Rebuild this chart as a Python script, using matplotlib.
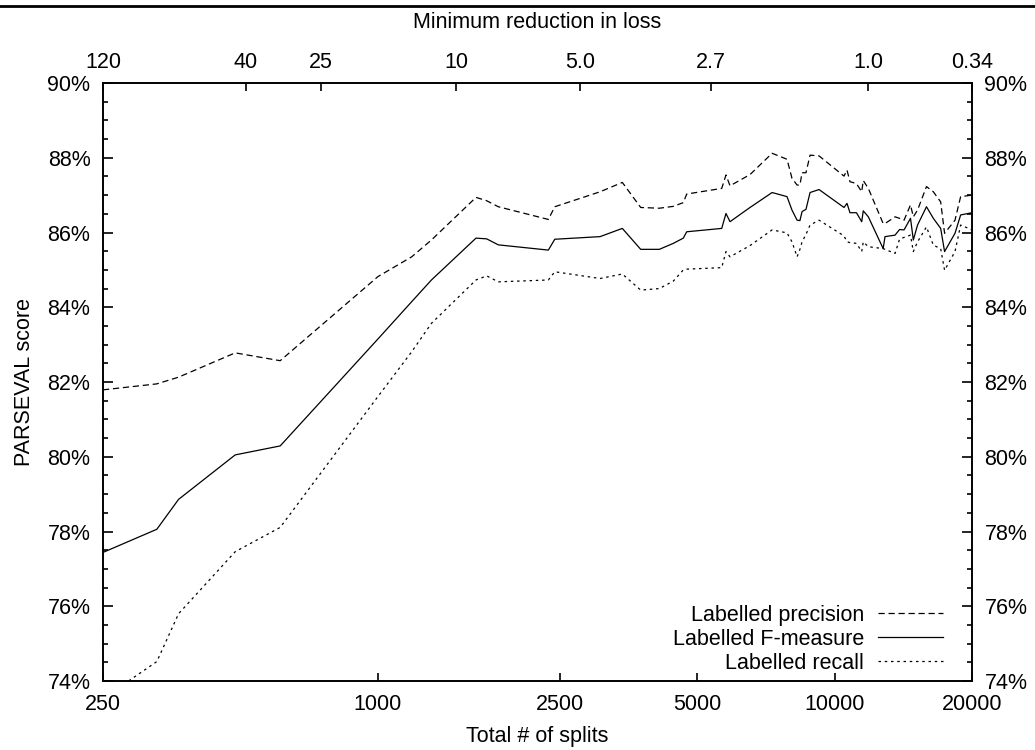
import matplotlib
matplotlib.use('Agg')
import matplotlib.pyplot as plt
from matplotlib.lines import Line2D
from matplotlib.ticker import FixedLocator, NullLocator, FuncFormatter

plt.rcParams['font.family'] = ['Liberation Sans', 'DejaVu Sans']

# total number of splits (shared by all three series)
splits = [250, 328, 366, 487, 611, 1000, 1186, 1310, 1640, 1731, 1835, 2362, 2440,
          3066, 3430, 3763, 4134, 4436, 4665, 4746, 5662, 5785, 5904, 6530, 7300,
          7870, 8070, 8280, 8400, 8490, 8660, 8840, 9250, 10490, 10650, 10810,
          11170, 11470, 11560, 11860, 12780, 12900, 13570, 13880, 14200, 14670,
          14880, 15200, 15900, 16460, 17080, 17420, 18360, 18890, 20000]

precision = [81.79, 81.95, 82.13, 82.78, 82.57, 84.82, 85.35, 85.80, 86.94, 86.85,
             86.69, 86.35, 86.69, 87.09, 87.34, 86.67, 86.65, 86.70, 86.80, 87.03,
             87.18, 87.54, 87.25, 87.55, 88.12, 87.96, 87.45, 87.27, 87.27, 87.60,
             87.60, 88.07, 88.05, 87.51, 87.67, 87.36, 87.31, 87.09, 87.39, 87.18,
             86.24, 86.24, 86.42, 86.38, 86.33, 86.74, 86.42, 86.60, 87.23, 87.09,
             86.82, 85.98, 86.33, 86.96, 87.00]

fmeasure = [77.44, 78.06, 78.86, 80.05, 80.29, 83.15, 84.15, 84.73, 85.85, 85.83,
            85.67, 85.53, 85.82, 85.89, 86.11, 85.55, 85.55, 85.71, 85.85, 86.02,
            86.11, 86.51, 86.29, 86.67, 87.07, 86.96, 86.60, 86.33, 86.32, 86.56,
            86.62, 87.07, 87.15, 86.67, 86.78, 86.53, 86.53, 86.29, 86.58, 86.42,
            85.57, 85.89, 85.93, 86.08, 86.07, 86.38, 85.80, 86.20, 86.69, 86.38,
            86.11, 85.49, 85.98, 86.47, 86.53]

recall = [73.53, 74.52, 75.80, 77.46, 78.11, 81.61, 82.81, 83.57, 84.73, 84.84,
          84.68, 84.73, 84.95, 84.77, 84.89, 84.46, 84.50, 84.70, 85.00, 85.02,
          85.06, 85.49, 85.35, 85.65, 86.07, 85.99, 85.75, 85.35, 85.55, 85.75,
          85.95, 86.20, 86.33, 85.91, 85.75, 85.73, 85.71, 85.49, 85.75, 85.62,
          85.57, 85.55, 85.44, 85.82, 85.87, 85.93, 85.49, 85.75, 86.15, 85.66,
          85.57, 84.99, 85.49, 86.20, 86.07]

bottom_ticks = [250, 1000, 2500, 5000, 10000, 20000]
top_ticks = [250, 514, 751, 1483, 2773, 5365, 11840, 20000]
top_labels = ['120', '40', '25', '10', '5.0', '2.7', '1.0', '0.34']
y_ticks = [74, 76, 78, 80, 82, 84, 86, 88, 90]

fs = 15.5
fig = plt.figure(figsize=(10.35, 7.5), dpi=100)
ax = fig.add_axes([0.0995, 0.092, 0.8396, 0.7973])

ax.plot(splits, precision, color='black', lw=0.9, dashes=(5, 3), label='Labelled precision')
ax.plot(splits, fmeasure, color='black', lw=0.9, label='Labelled F-measure')
ax.plot(splits, recall, color='black', lw=0.9, dashes=(2, 3), label='Labelled recall')

ax.set_xscale('log')
ax.set_xlim(250, 20000)
ax.set_ylim(74, 90)
ax.xaxis.set_major_locator(FixedLocator(bottom_ticks))
ax.xaxis.set_minor_locator(NullLocator())
ax.set_xticklabels([str(t) for t in bottom_ticks])
ax.set_yticks(y_ticks)
ax.set_yticks([v + 0.5 * k for v in y_ticks[:-1] for k in (1, 2, 3)], minor=True)
ax.yaxis.set_major_formatter(FuncFormatter(lambda v, p: '%d%%' % v))

for s in ax.spines.values():
    s.set_linewidth(1.2)
ax.tick_params(axis='y', which='major', direction='in', length=7, width=1.2,
               left=True, right=True, labelleft=True, labelright=True,
               labelsize=fs, pad=9)
ax.tick_params(axis='y', which='minor', direction='in', length=3.5, width=1.2,
               left=True, right=True)
ax.tick_params(axis='x', which='major', direction='in', length=6, width=1.2,
               top=False, labelsize=fs, pad=9)

ax.set_xlabel('Total # of splits', fontsize=fs, labelpad=8)
ax.set_ylabel('PARSEVAL score', fontsize=fs, labelpad=9)

ax2 = ax.twiny()
ax2.set_xscale('log')
ax2.set_xlim(250, 20000)
ax2.xaxis.set_major_locator(FixedLocator(top_ticks))
ax2.xaxis.set_minor_locator(NullLocator())
ax2.set_xticklabels(top_labels)
ax2.tick_params(axis='x', which='major', direction='in', length=6, width=1.2,
                labelsize=fs, pad=7.5)
ax2.set_xlabel('Minimum reduction in loss', fontsize=fs, labelpad=17)
for s in ax2.spines.values():
    s.set_linewidth(1.2)

ax.legend(loc='lower right', bbox_to_anchor=(0.9666, 0.012), frameon=False,
          markerfirst=False, fontsize=fs, handlelength=3.0, handletextpad=0.65,
          labelspacing=0.14, borderaxespad=0, borderpad=0)

# cropped page rule at the very top
fig.add_artist(Line2D([0, 1], [0.992, 0.992], transform=fig.transFigure,
                      color='black', lw=2))

fig.savefig('out.png', dpi=100)
